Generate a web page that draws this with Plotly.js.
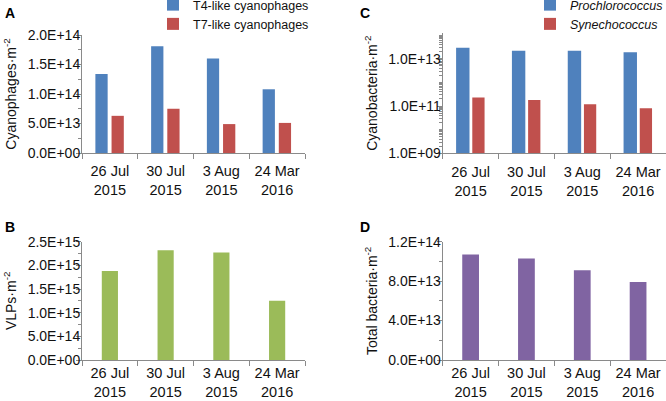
<!DOCTYPE html>
<html>
<head>
<meta charset="utf-8">
<script src="https://cdn.plot.ly/plotly-3.0.1.min.js"></script>
<style>
  html, body { margin: 0; padding: 0; background: #fff; overflow: hidden; }
  #wrap { width: 666px; height: 401px; overflow: hidden; position: relative; }
  #chart { position: absolute; left: 0; top: -10px; }
</style>
</head>
<body>
<div id="wrap"><div id="chart"></div></div>
<script>
/* Four-panel bar figure: cyanophages, VLPs, cyanobacteria, total bacteria per m^2 */

const dates = ['26 Jul<br>2015', '30 Jul<br>2015', '3 Aug<br>2015', '24 Mar<br>2016'];

// A - cyanophages
const t4Like = [1.34e14, 1.81e14, 1.60e14, 1.08e14];
const t7Like = [6.3e13, 7.5e13, 4.9e13, 5.1e13];
const aTicks = [0, 5e13, 1e14, 1.5e14, 2e14];
const aTickText = ['0.0E+00', '5.0E+13', '1.0E+14', '1.5E+14', '2.0E+14'];

// B - VLPs
const vlps = [1.88e15, 2.32e15, 2.27e15, 1.25e15];
const bTicks = [0, 5e14, 1e15, 1.5e15, 2e15, 2.5e15];
const bTickText = ['0.0E+00', '5.0E+14', '1.0E+15', '1.5E+15', '2.0E+15', '2.5E+15'];

// C - cyanobacteria (log)
const prochlorococcus = [2.9e13, 2.2e13, 2.2e13, 1.9e13];
const synechococcus = [2.3e11, 1.8e11, 1.2e11, 8.0e10];
const cTicks = [1e9, 1e11, 1e13];
const cTickText = ['1.0E+09', '1.0E+11', '1.0E+13'];

// D - total bacteria
const totalBacteria = [1.07e14, 1.03e14, 9.1e13, 7.9e13];
const dTicks = [0, 4e13, 8e13, 1.2e14];
const dTickText = ['0.0E+00', '4.0E+13', '8.0E+13', '1.2E+14'];

const BLUE = '#4f81bd', RED = '#c0504d', GREEN = '#9bbb59', PURPLE = '#8064a2';
const AXIS = '#8a8a8a';
const FONT = 'Liberation Sans, Arial, sans-serif';

// the plot is a bit larger than the page and shifted up so the legends can sit at the very top
const W = 700, H = 411, OFF = 10;
const px = p => p / W;
const py = p => 1 - (p + OFF) / H;

function xAxis(domain, anchor, standoff) {
    return {
        domain, anchor,
        type: 'category',
        range: [-0.5, 3.5],
        showline: true, linecolor: AXIS, linewidth: 1,
        ticks: 'outside', tickson: 'boundaries', ticklen: 5, tickcolor: AXIS,
        tickangle: 0, ticklabelstandoff: standoff,
        tickfont: { size: 14.5, color: '#111' },
        showgrid: false, zeroline: false, automargin: false, fixedrange: true,
    };
}

function yAxis(domain, anchor, title, range, tickvals, ticktext, minorStep) {
    return {
        domain, anchor, range,
        title: { text: title, font: { size: 14, color: '#111' }, standoff: 7 },
        tickmode: 'array', tickvals, ticktext,
        showline: true, linecolor: AXIS, linewidth: 1,
        ticks: 'outside', ticklen: 5, tickcolor: AXIS, ticklabelstandoff: -7,
        minor: { ticks: 'outside', ticklen: 3, tickcolor: AXIS, dtick: minorStep, showgrid: false },
        tickfont: { size: 14, color: '#111' },
        showgrid: false, zeroline: false, automargin: false, fixedrange: true,
    };
}

const traces = [
    { x: dates, y: t4Like, type: 'bar', name: 'T4-like cyanophages', xaxis: 'x', yaxis: 'y',
      marker: { color: BLUE }, width: 0.22, offset: -0.26, legend: 'legend' },
    { x: dates, y: t7Like, type: 'bar', name: 'T7-like cyanophages', xaxis: 'x', yaxis: 'y',
      marker: { color: RED }, width: 0.22, offset: 0.03, legend: 'legend' },
    { x: dates, y: vlps, type: 'bar', name: 'VLPs', xaxis: 'x2', yaxis: 'y2',
      marker: { color: GREEN }, width: 0.29, showlegend: false },
    { x: dates, y: prochlorococcus, type: 'bar', name: '<i>Prochlorococcus</i>', xaxis: 'x3', yaxis: 'y3',
      marker: { color: BLUE }, width: 0.24, offset: -0.26, legend: 'legend2' },
    { x: dates, y: synechococcus, type: 'bar', name: '<i>Synechococcus</i>', xaxis: 'x3', yaxis: 'y3',
      marker: { color: RED }, width: 0.22, offset: 0.03, legend: 'legend2' },
    { x: dates, y: totalBacteria, type: 'bar', name: 'Total bacteria', xaxis: 'x4', yaxis: 'y4',
      marker: { color: PURPLE }, width: 0.3, showlegend: false },
];

const leftX = [px(82), px(305)];
const rightX = [px(442.7), px(666)];
const topY = [py(153), py(35)];
const topYC = [py(153.3), py(33)];
const botY = [py(360), py(241.7)];

const yC = yAxis(topYC, 'x3', 'Cyanobacteria·m<sup>-2</sup>', [9, 14.09], cTicks, cTickText, 'D1');
yC.type = 'log';
yC.minor.tickmode = 'linear';

const legendStyle = {
    font: { size: 12.5, color: '#111', family: FONT },
    bgcolor: 'rgba(0,0,0,0)',
    xanchor: 'left', yanchor: 'top', y: 1,
    tracegroupgap: 0, itemwidth: 30,
};

const layout = {
    width: W, height: H,
    margin: { l: 0, r: 0, t: 0, b: 0 },
    paper_bgcolor: '#fff', plot_bgcolor: '#fff',
    font: { family: FONT, color: '#111' },
    barmode: 'overlay',
    xaxis: xAxis(leftX, 'y', 5),
    yaxis: yAxis(topY, 'x', 'Cyanophages·m<sup>-2</sup>', [0, 2e14], aTicks, aTickText, 2.5e13),
    xaxis2: xAxis(leftX, 'y2', 0),
    yaxis2: yAxis(botY, 'x2', 'VLPs·m<sup>-2</sup>', [0, 2.5e15], bTicks, bTickText, 2.5e14),
    xaxis3: xAxis(rightX, 'y3', 5),
    yaxis3: yC,
    xaxis4: xAxis(rightX, 'y4', 0),
    yaxis4: yAxis(botY, 'x4', 'Total bacteria·m<sup>-2</sup>', [0, 1.2e14], dTicks, dTickText, 2e13),
    legend: Object.assign({}, legendStyle, { x: px(153) }),
    legend2: Object.assign({}, legendStyle, { x: px(530) }),
    annotations: [
        ['A', 3, 3], ['C', 358, 3], ['B', 3, 217], ['D', 358, 217],
    ].map(([t, ax, ay]) => ({
        text: '<b>' + t + '</b>', xref: 'paper', yref: 'paper',
        x: px(ax), y: py(ay), xanchor: 'left', yanchor: 'top',
        showarrow: false, font: { size: 14, color: '#000', family: FONT },
    })),
    showlegend: true,
};

Plotly.newPlot('chart', traces, layout, { staticPlot: true, displayModeBar: false });
</script>
</body>
</html>
